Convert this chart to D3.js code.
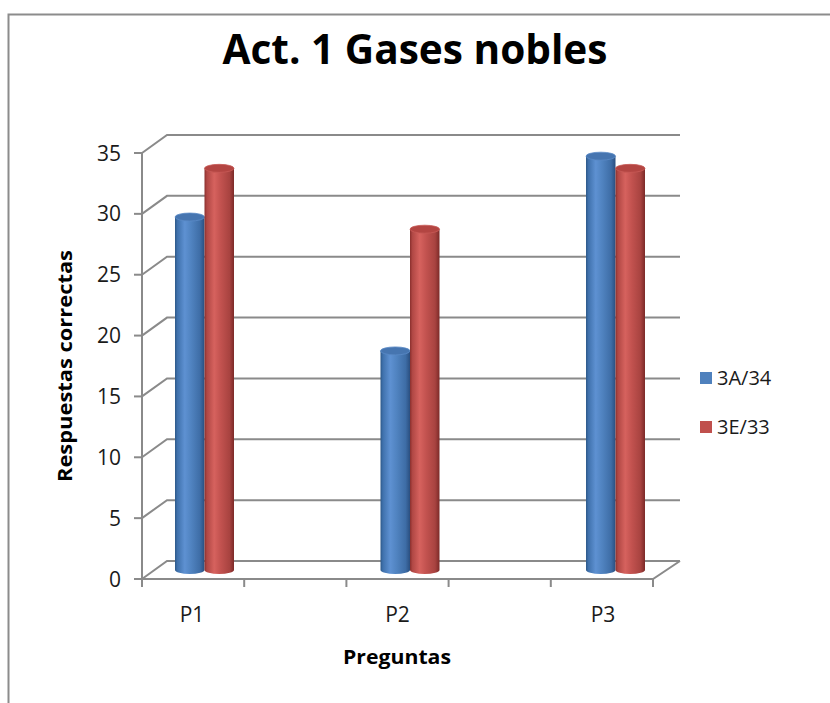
<!DOCTYPE html>
<html><head><meta charset="utf-8">
<script src="https://cdn.jsdelivr.net/npm/d3@7"></script>
<style>body{margin:0;background:#fff}</style>
</head><body>
<svg id="c" width="830" height="703"></svg>
<script>
// ---- data ----
const categories = ["P1", "P2", "P3"];
const seriesNames = ["3A/34", "3E/33"];
const values3A = [29, 18, 34];
const values3E = [33, 28, 33];
const yTicks = [0, 5, 10, 15, 20, 25, 30, 35];
const titleText = "Act. 1 Gases nobles";
const xTitleText = "Preguntas";
const yTitleText = "Respuestas correctas";
const seriesColors = ["#4F81BD", "#C0504D"];

// ---- layout ----
const svg = d3.select("#c");
const FONT = "'Liberation Sans Narrow','Open Sans','DejaVu Sans',sans-serif";
const FONT2 = "'Open Sans','Liberation Sans',sans-serif";
const frontLeft = 142, frontRight = 653;
const depthX = 25, depthY = -18;
const y = d3.scaleLinear().domain([0, 35]).range([579, 153]);
const xCat = d3.scalePoint().domain(categories).range([192, 603]);
const xTickScale = d3.scaleLinear().domain([0, 5]).range([frontLeft, frontRight]);
const gridColor = "#8a8a8a";

// frame
svg.append("path").attr("d", "M8.5,703 V14.5 H830").attr("fill", "none")
  .attr("stroke", "#8c8c8c").attr("stroke-width", 2);

// defs: gradients
const defs = svg.append("defs");
const gradStops = [
  [[0, "#2D5888"], [0.08, "#3F71AC"], [0.33, "#5E91D2"], [0.55, "#5083C0"], [0.85, "#3E6DA6"], [1, "#2A4F80"]],
  [[0, "#8A2F2D"], [0.08, "#B04744"], [0.33, "#D6625E"], [0.55, "#C2524F"], [0.85, "#A84340"], [1, "#7C2A28"]]
];
gradStops.forEach((st, i) => {
  const g = defs.append("linearGradient").attr("id", "g" + i)
    .attr("x1", 0).attr("x2", 1).attr("y1", 0).attr("y2", 0);
  st.forEach(s => g.append("stop").attr("offset", s[0]).attr("stop-color", s[1]));
});

// gridlines (side wall + back wall)
yTicks.forEach(v => {
  const yf = y(v);
  svg.append("path")
    .attr("d", `M${frontLeft},${yf} L${frontLeft + depthX},${yf + depthY} H${frontRight + depthX + 2}`)
    .attr("fill", "none").attr("stroke", gridColor).attr("stroke-width", 2);
});
// floor
svg.append("path")
  .attr("d", `M${frontLeft},${y(0)} H${frontRight} L${frontRight + depthX + 2},${y(0) + depthY}`)
  .attr("fill", "none").attr("stroke", gridColor).attr("stroke-width", 2);
// y axis line
svg.append("path").attr("d", `M${frontLeft},${y(35)} V${y(0)}`)
  .attr("stroke", gridColor).attr("stroke-width", 2);
// y ticks + labels
yTicks.forEach(v => {
  svg.append("path").attr("d", `M${frontLeft - 8},${y(v)} H${frontLeft}`)
    .attr("stroke", gridColor).attr("stroke-width", 2);
  svg.append("text").attr("x", 121).attr("y", y(v)).attr("dy", "0.36em")
    .attr("text-anchor", "end").attr("font-family", FONT2).attr("font-size", 21)
    .attr("fill", "#1a1a1a").text(v);
});
// x ticks
d3.range(6).forEach(k => {
  svg.append("path").attr("d", `M${xTickScale(k)},${y(0)} V${y(0) + 8}`)
    .attr("stroke", gridColor).attr("stroke-width", 2);
});
// category labels
categories.forEach(c => {
  svg.append("text").attr("x", xCat(c)).attr("y", 614).attr("dy", "0.36em")
    .attr("text-anchor", "middle").attr("font-family", FONT2).attr("font-size", 21)
    .attr("fill", "#1a1a1a").text(c);
});

// cylinders
const allValues = [values3A, values3E];
const r = 14.75, ry = 4;
categories.forEach((c, ci) => {
  allValues.forEach((vals, si) => {
    const cx = xCat(c) + depthX / 2 + (si === 0 ? -r : r);
    const yt = y(vals[ci]) + depthY / 2;
    const yb = y(0) + depthY / 2;
    svg.append("path")
      .attr("d", `M${cx - r},${yt} V${yb} A${r},${ry} 0 0 0 ${cx + r},${yb} V${yt} Z`)
      .attr("fill", `url(#g${si})`);
    svg.append("ellipse").attr("cx", cx).attr("cy", yt).attr("rx", r).attr("ry", ry)
      .attr("fill", si === 0 ? "#4675B0" : "#B34542")
      .attr("stroke", si === 0 ? "#5A8AC6" : "#C85A57").attr("stroke-width", 0.8);
  });
});

// legend
seriesNames.forEach((s, i) => {
  const ly = 378 + i * 49;
  svg.append("rect").attr("x", 700).attr("y", ly - 6).attr("width", 12).attr("height", 12)
    .attr("fill", seriesColors[i]);
  svg.append("text").attr("x", 717).attr("y", ly).attr("dy", "0.36em")
    .attr("font-family", FONT2).attr("font-size", 20).attr("fill", "#1a1a1a").text(s);
});

// titles
svg.append("text").attr("x", 415).attr("y", 64).attr("text-anchor", "middle")
  .attr("font-family", FONT).attr("font-weight", "bold").attr("font-size", 42)
  .attr("textLength", 385).attr("lengthAdjust", "spacingAndGlyphs")
  .attr("fill", "#000").text(titleText);
svg.append("text").attr("x", 397).attr("y", 664).attr("text-anchor", "middle")
  .attr("font-family", FONT).attr("font-weight", "bold").attr("font-size", 20)
  .attr("textLength", 108).attr("lengthAdjust", "spacingAndGlyphs")
  .attr("fill", "#000").text(xTitleText);
svg.append("text").attr("transform", "translate(72,366) rotate(-90)")
  .attr("text-anchor", "middle")
  .attr("font-family", FONT).attr("font-weight", "bold").attr("font-size", 20)
  .attr("textLength", 232).attr("lengthAdjust", "spacingAndGlyphs")
  .attr("fill", "#000").text(yTitleText);
</script>
</body></html>
